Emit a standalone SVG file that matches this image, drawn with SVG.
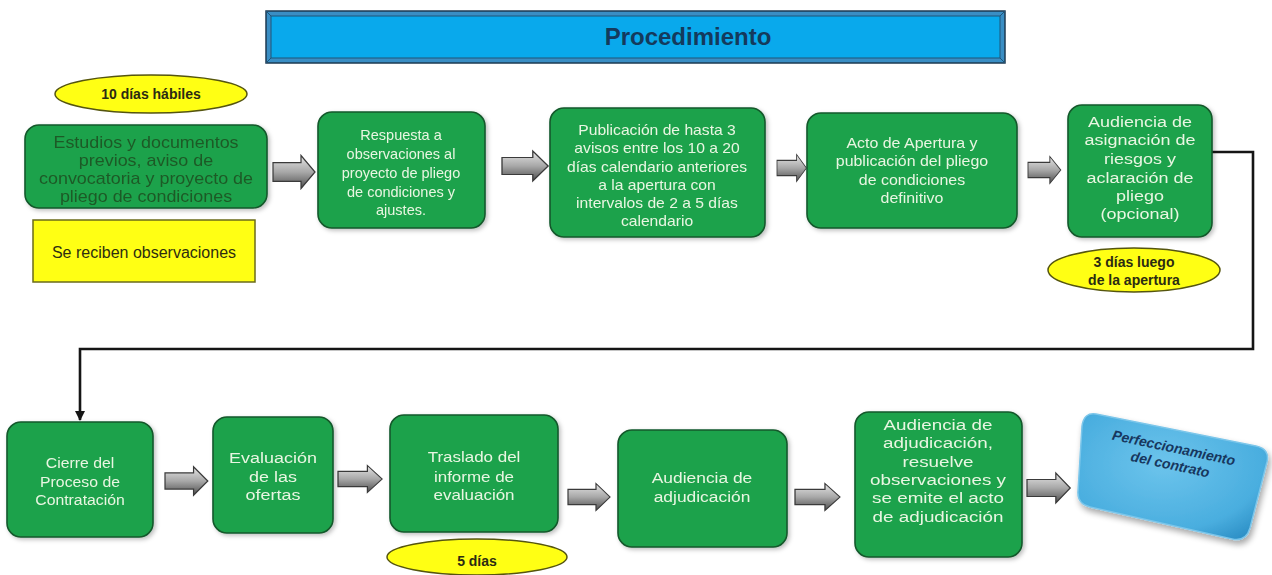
<svg xmlns="http://www.w3.org/2000/svg" xmlns:xlink="http://www.w3.org/1999/xlink" width="1272" height="575" viewBox="0 0 1272 575">
<defs>
<style>
.box{fill:#1fa24b;stroke:#12582b;stroke-width:1.6}
.t{font-family:"Liberation Sans",Arial,sans-serif;font-size:14.5px;fill:#e8f6e2;text-anchor:middle}
.dk{fill:#1b5a27}
.yl{fill:#ffff14;stroke:#55550f;stroke-width:1.5}
.yt{font-family:"Liberation Sans",Arial,sans-serif;font-size:14px;font-weight:bold;fill:#2b2b12;text-anchor:middle}
.arw{fill:url(#ag);stroke:#3a3a3a;stroke-width:1.2}
.conn{fill:none;stroke:#151515;stroke-width:2.6}
</style>
<linearGradient id="ag" x1="0" y1="0" x2="0" y2="1">
<stop offset="0" stop-color="#e6e6e6"/>
<stop offset="0.5" stop-color="#a8a8a8"/>
<stop offset="1" stop-color="#4e4e4e"/>
</linearGradient>
<radialGradient id="bg" cx="0.45" cy="0.4" r="0.7">
<stop offset="0" stop-color="#6cc4ec"/>
<stop offset="0.75" stop-color="#4aaedf"/>
<stop offset="1" stop-color="#2f92c8"/>
</radialGradient>
<filter id="sh" x="-10%" y="-10%" width="125%" height="125%">
<feDropShadow dx="2" dy="2" stdDeviation="2" flood-color="#000" flood-opacity="0.25"/>
</filter>
<filter id="glow" x="-15%" y="-15%" width="130%" height="130%">
<feGaussianBlur in="SourceAlpha" stdDeviation="3"/>
<feOffset dx="2" dy="4"/>
<feComponentTransfer><feFuncA type="linear" slope="0.35"/></feComponentTransfer>
<feMerge><feMergeNode/><feMergeNode in="SourceGraphic"/></feMerge>
</filter>
<path id="arw" class="arw" d="M0,-8.5 H28 V-15 L42,0 L28,15 V8.5 H0 Z"/>
<marker id="ah" viewBox="0 0 10 10" refX="9" refY="5" markerWidth="4" markerHeight="4" orient="auto" markerUnits="strokeWidth">
<path d="M0,0 L10,5 L0,10 Z" fill="#151515"/>
</marker>
</defs>
<rect width="1272" height="575" fill="#ffffff"/>

<g id="title">
<rect x="266" y="11" width="739" height="52" fill="#3a8ec4" stroke="#1c3a52" stroke-width="1.5"/>
<rect x="271" y="16" width="729" height="42" fill="#09a9ec" stroke="#1f5478" stroke-width="1"/>
<line x1="266" y1="11" x2="271" y2="16" stroke="#1f5478"/>
<line x1="1005" y1="11" x2="1000" y2="16" stroke="#1f5478"/>
<line x1="266" y1="63" x2="271" y2="58" stroke="#1f5478"/>
<line x1="1005" y1="63" x2="1000" y2="58" stroke="#1f5478"/>
<text x="688" y="45" font-family="Liberation Sans, Arial, sans-serif" font-size="24" font-weight="bold" fill="#143a5c" text-anchor="middle">Procedimiento</text>
</g>

<g id="connectors">
<use xlink:href="#arw" href="#arw" transform="translate(273,172) scale(1,1.1)"/>
<use xlink:href="#arw" href="#arw" transform="translate(502,166) scale(1.1,1)"/>
<use xlink:href="#arw" href="#arw" transform="translate(777,168) scale(0.7,0.9)"/>
<use xlink:href="#arw" href="#arw" transform="translate(1028,170) scale(0.78,0.9)"/>
<use xlink:href="#arw" href="#arw" transform="translate(165,481) scale(1.02,0.95)"/>
<use xlink:href="#arw" href="#arw" transform="translate(338,479) scale(1.05,0.9)"/>
<use xlink:href="#arw" href="#arw" transform="translate(568,497) scale(1.0,0.9)"/>
<use xlink:href="#arw" href="#arw" transform="translate(795,497) scale(1.07,0.9)"/>
<use xlink:href="#arw" href="#arw" transform="translate(1027,488) scale(1.03,1.0)"/>
<path class="conn" d="M1212,152 H1253 V349 H80 V420" marker-end="url(#ah)"/>
</g>

<g id="n-10dias">
<ellipse class="yl" cx="151" cy="94" rx="96" ry="19"/>
<text class="yt" x="151" y="99">10 días hábiles</text>
</g>

<g id="n-estudios" filter="url(#sh)">
<rect class="box" x="25" y="125" width="242" height="83" rx="14"/>
<text class="t dk" style="font-size:16px" transform="translate(146 0) scale(1.12 1)"><tspan x="0" y="148">Estudios y documentos</tspan><tspan x="0" y="166">previos, aviso de</tspan><tspan x="0" y="184">convocatoria y proyecto de</tspan><tspan x="0" y="202">pliego de condiciones</tspan></text>
</g>

<g id="n-observaciones">
<rect x="33" y="220" width="222" height="62" fill="#ffff14" stroke="#6b6b1a" stroke-width="1.5"/>
<text x="144" y="258" font-family="Liberation Sans, Arial, sans-serif" font-size="16" fill="#2d2d10" text-anchor="middle">Se reciben observaciones</text>
</g>

<g id="n-respuesta" filter="url(#sh)">
<rect class="box" x="318" y="112" width="167" height="116" rx="14"/>
<text class="t"><tspan x="401" y="140">Respuesta a</tspan><tspan x="401" y="159">observaciones al</tspan><tspan x="401" y="178">proyecto de pliego</tspan><tspan x="401" y="197">de condiciones y</tspan><tspan x="401" y="215">ajustes.</tspan></text>
</g>

<g id="n-publicacion" filter="url(#sh)">
<rect class="box" x="550" y="108" width="215" height="129" rx="14"/>
<text class="t" transform="translate(657 0) scale(1.08 1)"><tspan x="0" y="135">Publicación de hasta 3</tspan><tspan x="0" y="153">avisos entre los 10 a 20</tspan><tspan x="0" y="172">días calendario anteriores</tspan><tspan x="0" y="190">a la apertura con</tspan><tspan x="0" y="208">intervalos de 2 a 5 días</tspan><tspan x="0" y="226">calendario</tspan></text>
</g>

<g id="n-apertura" filter="url(#sh)">
<rect class="box" x="807" y="113" width="210" height="115" rx="14"/>
<text class="t" transform="translate(912 0) scale(1.1 1)"><tspan x="0" y="148">Acto de Apertura y</tspan><tspan x="0" y="166">publicación del pliego</tspan><tspan x="0" y="185">de condiciones</tspan><tspan x="0" y="203">definitivo</tspan></text>
</g>

<g id="n-audiencia-riesgos" filter="url(#sh)">
<rect class="box" x="1068" y="105" width="144" height="132" rx="14"/>
<text class="t" transform="translate(1140 0) scale(1.24 1)"><tspan x="0" y="127">Audiencia de</tspan><tspan x="0" y="145">asignación de</tspan><tspan x="0" y="164">riesgos y</tspan><tspan x="0" y="183">aclaración de</tspan><tspan x="0" y="201">pliego</tspan><tspan x="0" y="219">(opcional)</tspan></text>
</g>

<g id="n-3dias">
<ellipse class="yl" cx="1134" cy="270" rx="86" ry="22"/>
<text class="yt"><tspan x="1134" y="267">3 días luego</tspan><tspan x="1134" y="285">de la apertura</tspan></text>
</g>

<g id="n-cierre" filter="url(#sh)">
<rect class="box" x="7" y="422" width="146" height="115" rx="14"/>
<text class="t" transform="translate(80 0) scale(1.09 1)"><tspan x="0" y="468">Cierre del</tspan><tspan x="0" y="487">Proceso de</tspan><tspan x="0" y="505">Contratación</tspan></text>
</g>

<g id="n-evaluacion" filter="url(#sh)">
<rect class="box" x="213" y="417" width="120" height="116" rx="14"/>
<text class="t" transform="translate(273 0) scale(1.24 1)"><tspan x="0" y="463">Evaluación</tspan><tspan x="0" y="482">de las</tspan><tspan x="0" y="500">ofertas</tspan></text>
</g>

<g id="n-traslado" filter="url(#sh)">
<rect class="box" x="390" y="415" width="168" height="117" rx="14"/>
<text class="t" transform="translate(474 0) scale(1.17 1)"><tspan x="0" y="462">Traslado del</tspan><tspan x="0" y="482">informe de</tspan><tspan x="0" y="500">evaluación</tspan></text>
</g>

<g id="n-5dias">
<ellipse class="yl" cx="477" cy="557" rx="90" ry="18"/>
<text class="yt" x="477" y="566">5 días</text>
</g>

<g id="n-audiencia-adj" filter="url(#sh)">
<rect class="box" x="618" y="430" width="169" height="117" rx="14"/>
<text class="t" transform="translate(702 0) scale(1.2 1)"><tspan x="0" y="483">Audiencia de</tspan><tspan x="0" y="502">adjudicación</tspan></text>
</g>

<g id="n-audiencia-resuelve" filter="url(#sh)">
<rect class="box" x="855" y="412" width="167" height="145" rx="14"/>
<text class="t" transform="translate(938 0) scale(1.3 1)"><tspan x="0" y="430">Audiencia de</tspan><tspan x="0" y="448">adjudicación,</tspan><tspan x="0" y="467">resuelve</tspan><tspan x="0" y="485">observaciones y</tspan><tspan x="0" y="503">se emite el acto</tspan><tspan x="0" y="522">de adjudicación</tspan></text>
</g>

<g id="n-perfeccionamiento">
<path d="M1096,414 L1256,446 Q1270,449 1267,462 L1250,528 Q1246,542 1232,539 L1090,507 Q1077,504 1078,491 L1082,426 Q1084,412 1096,414 Z" fill="url(#bg)" stroke="#7cc6ea" stroke-width="1.5" filter="url(#glow)"/>
<text transform="rotate(12 1170 456)" font-family="Liberation Sans, Arial, sans-serif" font-size="14" font-weight="bold" font-style="italic" fill="#17375e" text-anchor="middle"><tspan x="1172" y="452">Perfeccionamiento</tspan><tspan x="1172" y="469">del contrato</tspan></text>
</g>
</svg>
